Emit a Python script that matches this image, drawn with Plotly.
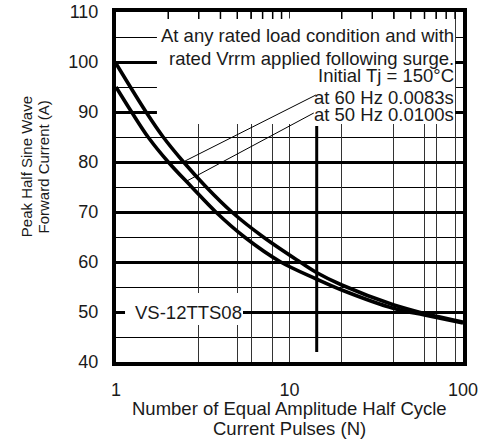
import plotly.graph_objects as go

# ---- data ----
n_60hz = [1, 1.49, 1.87, 2.45, 3.31, 4.65, 7.06, 11.5, 14.3, 20, 40, 60, 100]
i_60hz = [99.7, 90, 85, 80, 75, 70, 65, 60, 57.9, 55.4, 51.4, 49.7, 48.0]
n_50hz = [1, 1.23, 1.53, 2.0, 2.73, 3.76, 5.5, 8.9, 14.3, 20, 40, 60, 100]
i_50hz = [95, 90, 85, 80, 75, 70, 65, 60, 56.6, 54.4, 50.7, 49.4, 47.8]

x_grid_vals = [1, 3, 5, 6, 8, 10, 20, 40, 60, 70, 90, 100]
x_grid_text = ["1", "", "", "", "", "10", "", "", "", "", "", "100"]
x_top_ticks = [2, 3, 4, 5, 6, 7, 8, 9, 20, 30, 40, 50, 60, 70, 80, 90]
y_major = [40, 50, 60, 70, 80, 90, 100, 110]
y_minor = [45, 55, 65, 75, 85, 95, 105]

marker_n = [14.35, 14.35]
marker_i = [42.0, 87.2]

leader60_n = [14.2, 2.5]
leader60_i = [93.4, 80.2]
leader50_n = [13.8, 2.56]
leader50_i = [89.8, 76.2]

note_lines = ["At any rated load condition and with",
              "rated Vrrm applied following surge.",
              "Initial Tj = 150°C",
              "at 60 Hz 0.0083s",
              "at 50 Hz 0.0100s"]
note_y = [105.4, 100.8, 97.4, 93.0, 89.6]

FONT = "Liberation Sans, Arial, sans-serif"
TXT = "#1a1a1a"


def frac_to_n(f):
    # fraction of the log x-range (0..2 decades) -> axis value
    return 10 ** (2 * f)


fig = go.Figure()
fig.add_trace(go.Scatter(x=n_60hz, y=i_60hz, mode="lines",
                         line=dict(color="black", width=3.6, shape="spline", smoothing=1.0),
                         showlegend=False, hoverinfo="skip"))
fig.add_trace(go.Scatter(x=n_50hz, y=i_50hz, mode="lines",
                         line=dict(color="black", width=3.6, shape="spline", smoothing=1.0),
                         showlegend=False, hoverinfo="skip"))
fig.add_trace(go.Scatter(x=marker_n, y=marker_i, mode="lines",
                         line=dict(color="black", width=3),
                         showlegend=False, hoverinfo="skip"))
for xs, ys in [(leader60_n, leader60_i), (leader50_n, leader50_i)]:
    fig.add_trace(go.Scatter(x=xs, y=ys, mode="lines",
                             line=dict(color="black", width=1),
                             showlegend=False, hoverinfo="skip"))
# small inward ticks along the top frame
fig.add_trace(go.Scatter(x=x_top_ticks, y=[110] * len(x_top_ticks), mode="markers",
                         marker=dict(symbol="line-ns", size=10,
                                     line=dict(color="black", width=1.5)),
                         cliponaxis=True, showlegend=False, hoverinfo="skip"))

# white backgrounds behind the text blocks (above grid, below traces)
fig.add_shape(type="rect", xref="x", yref="y", x0=frac_to_n(0.118), x1=frac_to_n(0.977),
              y0=87.6, y1=108.7, fillcolor="white", line_width=0, layer="between")
fig.add_shape(type="rect", xref="x", yref="y", x0=frac_to_n(0.026), x1=frac_to_n(0.366),
              y0=47.4, y1=53.8, fillcolor="white", line_width=0, layer="between")

for t, yy in zip(note_lines, note_y):
    fig.add_annotation(text=t, xref="paper", yref="y", x=0.979, y=yy,
                       xanchor="right", yanchor="middle", showarrow=False,
                       font=dict(family=FONT, size=18.5, color=TXT))

fig.add_annotation(text="VS-12TTS08", xref="paper", yref="y", x=0.368, y=50,
                   xanchor="right", yanchor="middle", showarrow=False,
                   font=dict(family=FONT, size=18.5, color=TXT))

fig.add_annotation(text="Number of Equal Amplitude Half Cycle", xref="paper", yref="paper",
                   x=0.5, y=-0.134, xanchor="center", yanchor="middle", showarrow=False,
                   font=dict(family=FONT, size=18.5, color=TXT))
fig.add_annotation(text="Current Pulses (N)", xref="paper", yref="paper",
                   x=0.5, y=-0.189, xanchor="center", yanchor="middle", showarrow=False,
                   font=dict(family=FONT, size=18.5, color=TXT))
fig.add_annotation(text="Peak Half Sine Wave", xref="paper", yref="paper",
                   x=-0.2590, y=0.557, xanchor="center", yanchor="middle", textangle=-90,
                   showarrow=False, font=dict(family=FONT, size=15, color=TXT))
fig.add_annotation(text="Forward Current (A)", xref="paper", yref="paper",
                   x=-0.2090, y=0.557, xanchor="center", yanchor="middle", textangle=-90,
                   showarrow=False, font=dict(family=FONT, size=15, color=TXT))

fig.update_layout(
    width=480, height=446,
    margin=dict(l=116, r=17, t=12, b=84, autoexpand=False),
    paper_bgcolor="white", plot_bgcolor="white",
    xaxis=dict(type="log", range=[0, 2], tickvals=x_grid_vals, ticktext=x_grid_text,
               showgrid=True, gridcolor="#333", gridwidth=1.2, automargin=False,
               showline=True, linecolor="black", linewidth=4, mirror=True,
               ticks="", ticklabelstandoff=8, ticklabeloverflow="allow",
               tickfont=dict(family=FONT, size=18, color=TXT), zeroline=False),
    yaxis=dict(range=[40, 110], tickvals=y_major, showgrid=True, gridcolor="black",
               gridwidth=3, showline=True, linecolor="black", linewidth=4, mirror=True,
               ticks="", ticklabelstandoff=10, ticklabeloverflow="allow",
               zeroline=False, automargin=False,
               tickfont=dict(family=FONT, size=18, color=TXT),
               minor=dict(tickvals=y_minor, showgrid=True, gridcolor="black",
                          gridwidth=1, ticks="")),
)

# remove the default page margin so the figure sits at the window's top-left corner
fig.write_html("out.html", config={"displayModeBar": False},
               post_script="document.body.style.margin='0';")
